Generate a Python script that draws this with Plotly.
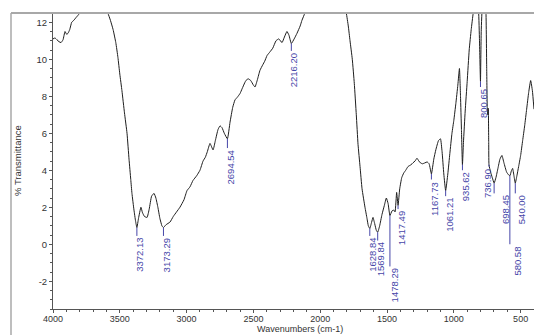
import plotly.graph_objects as go

# FTIR spectrum: wavenumber (cm-1) vs % transmittance
wavenumber = [
    4000, 3985, 3970, 3955, 3940, 3925, 3910, 3898, 3888, 3875, 3860, 3845, 3828, 3810, 3795,
    3770, 3740, 3700, 3660, 3620, 3590, 3570, 3550, 3530, 3514, 3500, 3484, 3465, 3446, 3431,
    3418, 3409, 3394, 3382, 3372.13, 3360, 3342, 3330, 3315, 3296, 3280, 3262, 3244, 3230, 3215,
    3200, 3185, 3173.29, 3155, 3124, 3100, 3075, 3050, 3020, 2997, 2975, 2952, 2925, 2900, 2877,
    2860, 2845, 2825, 2802, 2785, 2765, 2750, 2735, 2718, 2694.54, 2675, 2655, 2638, 2620, 2600,
    2585, 2560, 2541, 2520, 2500, 2488, 2470, 2451, 2430, 2415, 2398, 2376, 2355, 2331, 2310,
    2286, 2268, 2249, 2234, 2216.20, 2195, 2174, 2150, 2137, 2114, 2080, 2040, 2000, 1950, 1900,
    1850, 1820, 1805, 1790, 1777, 1760, 1745, 1730, 1717, 1702, 1687, 1665, 1650, 1640, 1628.84,
    1615, 1605, 1592, 1580, 1569.84, 1555, 1538, 1520, 1505, 1492, 1478.29, 1463, 1450, 1440, 1428,
    1417.49, 1405, 1390, 1375, 1360, 1343, 1320, 1306, 1290, 1276, 1262, 1250, 1235, 1216, 1200,
    1185, 1167.73, 1150, 1135, 1115, 1100, 1088, 1075, 1061.21, 1045, 1030, 1014, 1000, 985, 970,
    958, 950, 943, 935.62, 928, 915, 900, 885, 870, 855, 840, 825, 815, 808, 800.65,
    795, 785, 770, 760, 754, 750, 746, 742, 739, 736.90, 725, 712, 698.45, 685, 670,
    655, 640, 625, 605, 590, 580.58, 570, 560, 550, 540.00, 528, 515, 500, 485, 470,
    455, 440, 425, 412, 400,
]
transmittance = [
    11.10, 11.15, 11.05, 10.95, 10.90, 11.05, 11.50, 11.35, 11.40, 11.60, 12.00, 12.10, 12.25, 12.40, 12.55,
    12.80, 13.00, 13.10, 13.00, 12.80, 12.50, 12.10, 11.60, 10.90, 10.10, 9.20, 8.30, 7.10, 6.00, 4.60,
    3.50, 2.75, 1.85, 1.25, 0.90, 1.40, 2.00, 1.70, 1.50, 1.45, 1.90, 2.60, 2.75, 2.50, 2.00,
    1.40, 1.00, 0.90, 1.05, 1.20, 1.50, 1.75, 2.00, 2.40, 2.90, 3.10, 3.45, 3.70, 4.00, 4.50,
    4.70, 5.00, 5.45, 5.10, 5.60, 6.20, 6.40, 6.30, 6.00, 5.70, 6.60, 7.40, 7.80, 7.95, 8.15,
    8.40, 8.80, 8.95, 8.85, 8.60, 8.50, 8.90, 9.40, 9.70, 9.90, 10.20, 10.40, 10.60, 11.00, 11.10,
    10.90, 11.20, 11.50, 11.30, 10.85, 11.10, 11.40, 11.80, 12.10, 12.50, 12.90, 13.20, 13.50, 13.60, 13.50,
    13.20, 12.90, 12.50, 11.80, 11.00, 10.00, 8.70, 7.00, 5.40, 4.20, 3.00, 2.00, 1.40, 1.00, 0.85,
    1.20, 1.45, 1.10, 0.75, 0.65, 1.00, 1.60, 2.10, 2.50, 2.20, 1.55, 1.80, 1.85, 1.75, 2.80,
    2.10, 3.00, 3.60, 3.85, 4.00, 4.20, 4.30, 4.40, 4.50, 4.65, 4.50, 4.40, 4.35, 4.40, 4.45,
    4.35, 3.80, 4.60, 5.10, 5.60, 5.70, 5.00, 3.80, 2.90, 3.80, 4.90, 6.00, 6.70, 7.60, 8.60,
    9.50, 8.00, 6.20, 4.30, 5.50, 7.20, 8.80, 10.50, 11.60, 12.50, 13.20, 13.00, 12.60, 11.00, 8.80,
    11.50, 13.00, 13.20, 12.60, 9.50, 7.40, 7.00, 7.35, 5.50, 4.30, 3.90, 3.60, 3.30, 3.60, 4.10,
    4.60, 4.80, 4.40, 3.90, 3.75, 3.70, 3.95, 4.10, 3.70, 3.30, 3.70, 4.20, 4.80, 5.60, 6.40,
    7.30, 8.20, 8.85, 8.30, 7.30,
]

# Peak picks: position, transmittance at the band, length of the leader line
peak_wn = [3372.13, 3173.29, 2694.54, 2216.20, 1628.84, 1569.84, 1478.29, 1417.49,
           1167.73, 1061.21, 935.62, 800.65, 736.90, 698.45, 580.58, 540.00]
peak_t = [0.90, 0.90, 5.70, 10.85, 0.85, 0.65, 1.55, 2.10,
          3.80, 2.90, 4.30, 8.80, 4.30, 3.30, 3.70, 3.30]
peak_drop = [0.45, 0.45, 0.50, 0.40, 0.40, 0.45, 2.75, 0.20,
             0.30, 0.30, 0.30, 0.30, 0.10, 0.55, 3.70, 0.55]

x_ticks = [4000, 3500, 3000, 2500, 2000, 1500, 1000, 500]
y_ticks = [-2, 0, 2, 4, 6, 8, 10, 12]

label_blue = "#4646a8"
axis_grey = "#555555"
text_grey = "#333333"
font_family = "Liberation Sans, Arial, sans-serif"

# extra horizontal nudge for crowded labels in the fingerprint region
label_nudge = {736.90: -5, 698.45: 9, 580.58: 5, 540.00: 4, 1478.29: 2}

fig = go.Figure()
fig.add_trace(go.Scatter(
    x=wavenumber, y=transmittance, mode="lines",
    line=dict(color="#1e1e1e", width=1, shape="spline", smoothing=0.4),
    hoverinfo="skip", showlegend=False,
))

# leader lines and rotated peak labels
for w, t, d in zip(peak_wn, peak_t, peak_drop):
    fig.add_shape(type="line", xref="x", yref="y", x0=w, x1=w, y0=t, y1=t - d,
                  line=dict(color=label_blue, width=1))
    fig.add_annotation(x=w, y=t - d, xref="x", yref="y", text=f"{w:.2f}",
                       showarrow=False, textangle=-90, xanchor="center", yanchor="top",
                       xshift=3 + label_nudge.get(w, 0), yshift=-1, borderpad=0,
                       font=dict(family=font_family, size=9.5, color=label_blue))

# outer frame (top and left edges)
left_px = -42 / 481
fig.add_shape(type="line", xref="paper", yref="paper", x0=left_px, x1=1.0, y0=1.0, y1=1.0,
              line=dict(color="#a8a8a8", width=2))
fig.add_shape(type="line", xref="paper", yref="paper", x0=left_px, x1=left_px, y0=1.0, y1=-0.2,
              line=dict(color="#a8a8a8", width=1.5))

fig.add_annotation(x=(300 - 53) / 481, y=0, xref="paper", yref="paper", text="Wavenumbers (cm-1)",
                   showarrow=False, xanchor="center", yanchor="middle", yshift=-20, borderpad=0,
                   font=dict(family=font_family, size=9, color=text_grey))
fig.add_annotation(x=(17 - 53) / 481, y=0.5, xref="paper", yref="paper", text="% Transmittance",
                   showarrow=False, textangle=-90, xanchor="center", yanchor="middle",
                   font=dict(family=font_family, size=9.5, color=text_grey))

fig.update_layout(
    width=534, height=335,
    margin=dict(l=53, r=0, t=13, b=26),
    paper_bgcolor="white", plot_bgcolor="white",
    xaxis=dict(range=[4000, 400], tickvals=x_ticks, ticktext=[str(v) for v in x_ticks],
               showgrid=False, zeroline=False, showline=True, linecolor=axis_grey, linewidth=1,
               ticks="outside", ticklen=3, tickcolor=axis_grey, ticklabelstandoff=-2,
               minor=dict(dtick=100, ticks="outside", ticklen=2, tickcolor=axis_grey, showgrid=False),
               tickfont=dict(family=font_family, size=9, color=text_grey)),
    yaxis=dict(range=[-3.5, 12.5], tickvals=y_ticks, ticktext=[str(v) for v in y_ticks],
               showgrid=False, zeroline=False, showline=True, linecolor=axis_grey, linewidth=1,
               ticks="outside", ticklen=3, tickcolor=axis_grey,
               minor=dict(dtick=0.5, ticks="outside", ticklen=2, tickcolor=axis_grey, showgrid=False),
               tickfont=dict(family=font_family, size=9.5, color=text_grey)),
)

fig.write_html("out.html")
